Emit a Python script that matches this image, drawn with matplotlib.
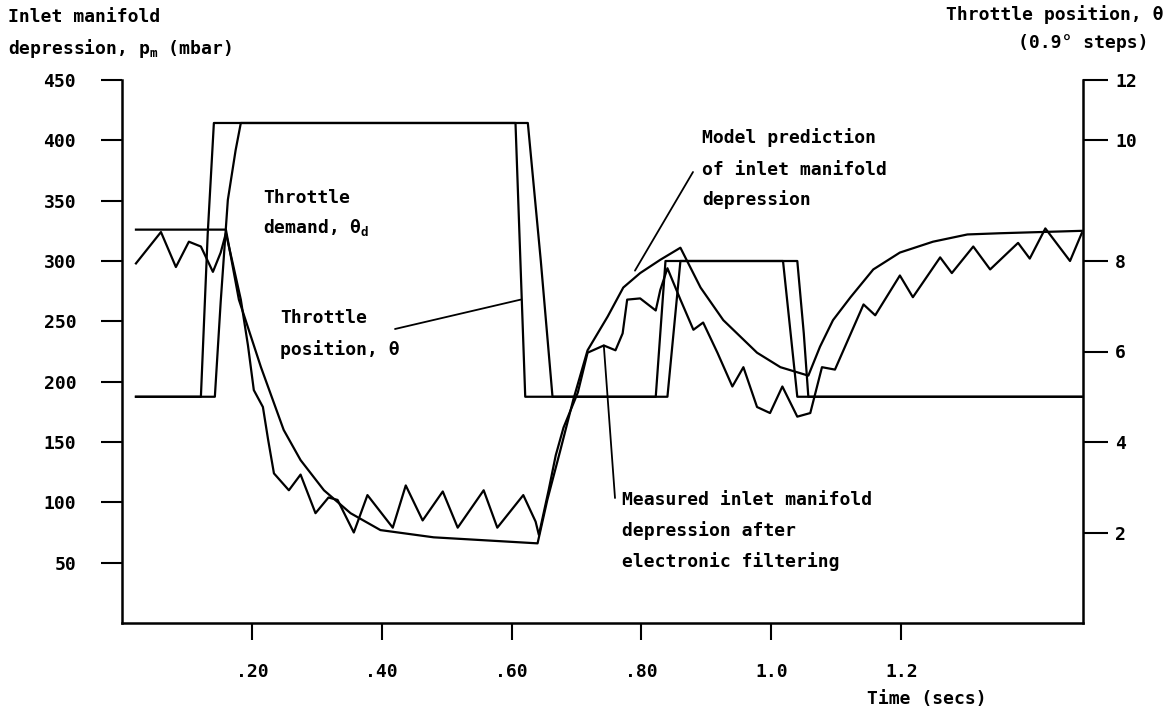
import matplotlib
matplotlib.use("Agg")
import matplotlib.pyplot as plt

plt.rcParams['font.family'] = ['DejaVu Sans Mono', 'DejaVu Sans']
plt.rcParams['font.weight'] = 'bold'
plt.rcParams['mathtext.fontset'] = 'custom'
plt.rcParams['mathtext.rm'] = 'DejaVu Sans Mono:bold'
plt.rcParams['mathtext.it'] = 'DejaVu Sans Mono:bold'
plt.rcParams['mathtext.default'] = 'regular'

# measured inlet manifold depression (after filtering), mbar
meas_t = [0.0215, 0.060, 0.083, 0.103, 0.1215, 0.140, 0.152, 0.160, 0.171, 0.183,
          0.194, 0.203, 0.217, 0.225, 0.234, 0.257, 0.275, 0.298, 0.318, 0.332,
          0.357, 0.378, 0.417, 0.437, 0.463, 0.494, 0.517, 0.557, 0.578, 0.618,
          0.637, 0.642, 0.657, 0.668, 0.680, 0.702, 0.717, 0.742, 0.760, 0.771,
          0.778, 0.798, 0.822, 0.829, 0.840, 0.860, 0.880, 0.895, 0.917, 0.940,
          0.957, 0.978, 0.998, 1.017, 1.040, 1.060, 1.078, 1.098, 1.142, 1.160,
          1.198, 1.218, 1.260, 1.278, 1.311, 1.337, 1.380, 1.398, 1.422, 1.460,
          1.478]
meas_p = [298, 324, 295, 316, 312, 291, 307, 323, 297, 268,
          230, 193, 179, 152, 124, 110, 123, 91, 104, 102,
          75, 106, 79, 114, 85, 109, 79, 110, 79, 106,
          84, 73, 110, 139, 162, 191, 224, 230, 226, 240,
          268, 269, 259, 276, 294, 268, 243, 249, 224, 196,
          212, 179, 174, 196, 171, 174, 212, 210, 264, 255,
          288, 270, 303, 290, 312, 293, 315, 302, 327, 300,
          323]

# model prediction of inlet manifold depression, mbar
model_t = [0.0215, 0.160, 0.180, 0.214, 0.249, 0.275, 0.311, 0.352, 0.398, 0.480,
           0.640, 0.655, 0.675, 0.695, 0.717, 0.748, 0.772, 0.798, 0.829, 0.860,
           0.891, 0.926, 0.978, 1.014, 1.057, 1.075, 1.095, 1.122, 1.157, 1.198,
           1.249, 1.302, 1.352, 1.478]
model_p = [326, 326, 268, 212, 160, 135, 110, 91, 77, 71,
           66, 102, 143, 185, 226, 254, 278, 290, 301, 311,
           278, 251, 224, 212, 205, 229, 251, 270, 293, 307,
           316, 322, 323, 325]

# throttle demand and throttle position, 0.9 deg steps
dem_t = [0.0215, 0.1215, 0.132, 0.1415, 0.606, 0.621, 0.822, 0.837, 1.018, 1.040, 1.478]
dem_v = [5.0, 5.0, 8.6, 11.05, 11.05, 5.0, 5.0, 8.0, 8.0, 5.0, 5.0]
pos_t = [0.0215, 0.143, 0.152, 0.163, 0.175, 0.183, 0.625, 0.645, 0.663,
         0.840, 0.860, 1.040, 1.050, 1.057, 1.478]
pos_v = [5.0, 5.0, 7.1, 9.35, 10.45, 11.05, 11.05, 8.0, 5.0,
         5.0, 8.0, 8.0, 6.4, 5.0, 5.0]

x_ticks = [0.2, 0.4, 0.6, 0.8, 1.0, 1.2]
x_labels = ['.20', '.40', '.60', '.80', '1.0', '1.2']
left_ticks = [50, 100, 150, 200, 250, 300, 350, 400, 450]
# the printed right-hand scale is not evenly spaced near 10
right_tick_pos = [2, 4, 6, 8, 10.67, 12]
right_labels = ['2', '4', '6', '8', '10', '12']

W, H = 1166, 712


def fx(px):
    return px / W


def fy(py):
    return 1 - py / H


fig = plt.figure(figsize=(W / 100, H / 100), dpi=100)
ax = fig.add_axes([fx(122), fy(623), (1083 - 122) / W, (623 - 80) / H])
ax2 = ax.twinx()

lw = 1.6
ax.plot(meas_t, meas_p, color='black', lw=lw)
ax.plot(model_t, model_p, color='black', lw=lw)
ax2.plot(dem_t, dem_v, color='black', lw=lw)
ax2.plot(pos_t, pos_v, color='black', lw=lw)

ax.set_xlim(0, 1.48)
ax.set_ylim(0, 450)
ax2.set_ylim(0, 12)

ax.set_xticks(x_ticks)
ax.set_xticklabels(x_labels)
ax.set_yticks(left_ticks)
ax.set_yticklabels([str(v) for v in left_ticks])
ax2.set_yticks(right_tick_pos)
ax2.set_yticklabels(right_labels)

fs = 13
ax.tick_params(axis='x', direction='out', length=12, width=1.5, pad=17, labelsize=fs)
ax.tick_params(axis='y', direction='out', length=15, width=1.5, pad=18, labelsize=fs)
ax2.tick_params(axis='y', direction='out', length=18, width=1.5, pad=5, labelsize=fs)

for a in (ax, ax2):
    for s in a.spines.values():
        s.set_linewidth(1.8)
    a.spines['top'].set_visible(False)
ax.spines['right'].set_visible(False)
ax2.spines['left'].set_visible(False)
ax2.spines['bottom'].set_visible(False)

# axis titles
fig.text(fx(8), fy(17), 'Inlet manifold', fontsize=fs, va='center', ha='left')
fig.text(fx(8), fy(48), 'depression, p$_m$ (mbar)', fontsize=fs, va='center', ha='left')
fig.text(fx(1163), fy(15), 'Throttle position, θ', fontsize=fs, va='center', ha='right')
fig.text(fx(1148), fy(43), '(0.9° steps)', fontsize=fs, va='center', ha='right')
fig.text(fx(927), fy(699), 'Time (secs)', fontsize=fs, va='center', ha='center')

# curve labels
fig.text(fx(263), fy(198), 'Throttle', fontsize=fs, va='center')
fig.text(fx(263), fy(228), 'demand, θ$_d$', fontsize=fs, va='center')
fig.text(fx(280), fy(318), 'Throttle', fontsize=fs, va='center')
fig.text(fx(280), fy(350), 'position, θ', fontsize=fs, va='center')
fig.text(fx(702), fy(138), 'Model prediction', fontsize=fs, va='center')
fig.text(fx(702), fy(170), 'of inlet manifold', fontsize=fs, va='center')
fig.text(fx(702), fy(200), 'depression', fontsize=fs, va='center')
fig.text(fx(622), fy(500), 'Measured inlet manifold', fontsize=fs, va='center')
fig.text(fx(622), fy(531), 'depression after', fontsize=fs, va='center')
fig.text(fx(622), fy(562), 'electronic filtering', fontsize=fs, va='center')

# leader lines
arrow = dict(arrowstyle='-', color='black', lw=1.3, shrinkA=0, shrinkB=0)
ax.annotate('', xy=(0.614, 268), xytext=(fx(395), fy(329)),
            textcoords='figure fraction', arrowprops=arrow)
ax.annotate('', xy=(0.79, 292), xytext=(fx(693), fy(172)),
            textcoords='figure fraction', arrowprops=arrow)
ax.annotate('', xy=(0.742, 230), xytext=(fx(615), fy(498)),
            textcoords='figure fraction', arrowprops=arrow)

fig.savefig('out.png', dpi=100)
